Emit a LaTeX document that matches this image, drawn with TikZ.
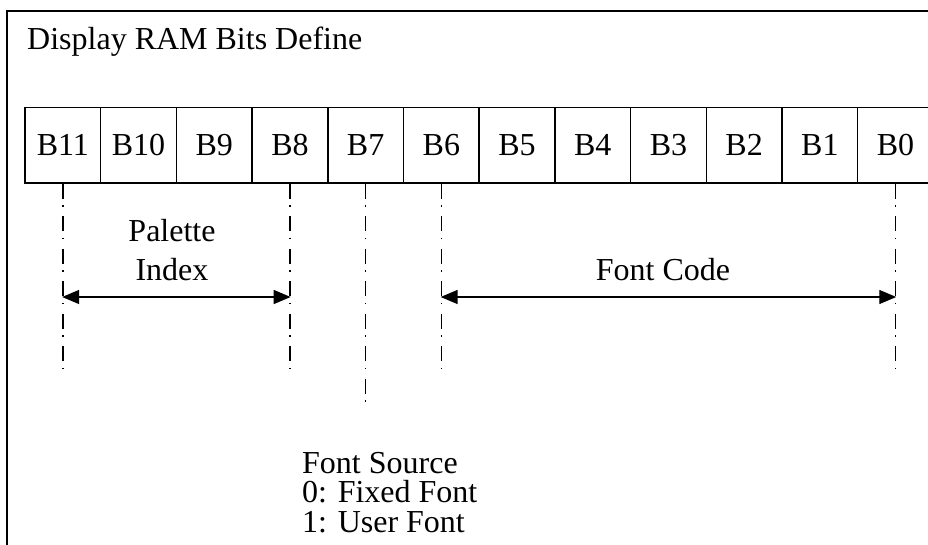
\documentclass[tikz,border=0pt]{standalone}
\usepackage{fontspec}
\setmainfont{Liberation Serif}
\usetikzlibrary{arrows.meta}
\begin{document}
\begin{tikzpicture}[x=1pt,y=-1pt,
  txt/.style={font=\fontsize{32}{38}\selectfont, inner sep=0pt},
  bitbox/.style={txt, draw, line width=1.5pt, minimum width=75.7pt, minimum height=75.3pt},
  guide/.style={line width=1.4pt, dash pattern=on 15pt off 6.5pt on 1.5pt off 9.5pt},
  span/.style={line width=1.4pt, {Triangle[length=17pt,width=14pt]}-{Triangle[length=17pt,width=14pt]}, shorten <=-0.7pt, shorten >=-0.7pt},
]
\useasboundingbox (0,0) rectangle (928,545);
\clip (0,0) rectangle (928,545);
% outer frame (continues past the right and bottom edges)
\draw[line width=2pt] (7,560) -- (7,11) -- (940,11);
\node[txt, anchor=base west] (title) at (27,50) {Display RAM Bits Define};
% the twelve bit cells, B11 on the left down to B0 on the right
\foreach \i in {0,...,11} {
  \node[bitbox] (b\i) at ({25+75.7*(11-\i)+37.85}, 145.35) {B\i};
}
% guide lines below the field boundaries
\foreach \i/\len in {11/371, 8/371, 7/403, 6/371, 0/371} {
  \coordinate (e\i) at (b\i.south |- 0,\len);
  \coordinate (p\i) at (b\i.south |- 0,297);
  \draw[guide] (b\i.south) -- (e\i);
}
% field spans
\draw[span] (p11) -- (p8);
\draw[span] (p6) -- (p0);
\node[txt, anchor=base] (pal) at (172,242) {Palette};
\node[txt, anchor=base] (idx) at (172,280) {Index};
\node[txt, anchor=base] (fcode) at (663,280) {Font Code};
\node[txt, anchor=base west] (fs0) at (302,473) {Font Source};
\node[txt, anchor=base west] (fs1) at (302,502) {0: Fixed Font};
\node[txt, anchor=base west] (fs2) at (302,532) {1: User Font};
\end{tikzpicture}
\end{document}
